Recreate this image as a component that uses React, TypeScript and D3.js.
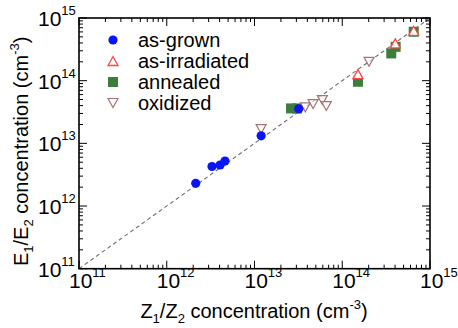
import React from "react";
import * as d3 from "d3";

const asGrownX = [2.14e12, 3.28e12, 4.05e12, 4.61e12, 1.19e13, 3.19e13];
const asGrownY = [2.3e12, 4.27e12, 4.51e12, 5.22e12, 1.32e13, 3.56e13];
const irradiatedX = [1.51e14, 4.02e14, 6.52e14];
const irradiatedY = [1.27e14, 3.93e14, 6.25e14];
const annealedX = [2.61e13, 3.05e13, 1.51e14, 3.62e14, 4.06e14, 6.52e14];
const annealedY = [3.61e13, 3.61e13, 9.6e13, 2.72e14, 3.47e14, 6.03e14];
const oxidizedX = [1.19e13, 3.79e13, 4.65e13, 5.93e13, 6.58e13, 2.02e14];
const oxidizedY = [1.69e13, 3.75e13, 4.24e13, 4.91e13, 3.94e13, 2.0e14];
const legendLabels = ["as-grown", "as-irradiated", "annealed", "oxidized"];
const decadeExps = [11, 12, 13, 14, 15];

const W = 458, H = 328;
const L = 79, R = 430, T = 18, B = 268.7;
const FONT = "'Liberation Sans', Arial, sans-serif";

const BLUE = "#0a14f5";
const RED = "#ff4646";
const GREEN = "#3b7d3b";
const BROWN = "#a57373";

const x = d3.scaleLog().domain([1e11, 1e15]).range([L, R]);
const y = d3.scaleLog().domain([1e11, 1e15]).range([B, T]);

const zip = (a: number[], b: number[]) => a.map((v, i) => [v, b[i]] as [number, number]);

function upTri(cx: number, cy: number, s: number) {
  const h = s * 0.9;
  return `M${cx},${cy - h / 2} L${cx + s / 2},${cy + h / 2} L${cx - s / 2},${cy + h / 2} Z`;
}
function downTri(cx: number, cy: number, s: number) {
  const h = s * 0.9;
  return `M${cx},${cy + h / 2} L${cx + s / 2},${cy - h / 2} L${cx - s / 2},${cy - h / 2} Z`;
}

export default function App() {
  const ticks: { v: number; major: boolean }[] = [];
  for (let d = 11; d < 15; d++) {
    for (let m = 1; m <= 9; m++) ticks.push({ v: m * Math.pow(10, d), major: m === 1 });
  }
  ticks.push({ v: 1e15, major: true });

  const majorLen = 8, minorLen = 4;

  return (
    <svg width={W} height={H} style={{ position: "absolute", left: 0, top: 0, background: "#fff" }} fontFamily={FONT}>
      <rect x={0} y={0} width={W} height={H} fill="#fff" />
      {/* diagonal */}
      <line x1={x(1e11)} y1={y(1e11)} x2={x(1e15)} y2={y(1e15)} stroke="#6e6e6e" strokeWidth={1.1} strokeDasharray="4,3" />
      {/* ticks */}
      <g stroke="#000" strokeWidth={1}>
        {ticks.map((t, i) => {
          const len = t.major ? majorLen : minorLen;
          const px = x(t.v), py = y(t.v);
          return (
            <g key={i}>
              <line x1={px} x2={px} y1={B} y2={B - len} />
              <line x1={px} x2={px} y1={T} y2={T + len} />
              <line x1={L} x2={L + len} y1={py} y2={py} />
              <line x1={R} x2={R - len} y1={py} y2={py} />
            </g>
          );
        })}
      </g>
      <rect x={L} y={T} width={R - L} height={B - T} fill="none" stroke="#000" strokeWidth={1.6} />
      {/* x tick labels */}
      {decadeExps.map((e) => (
        <text key={"x" + e} x={x(Math.pow(10, e)) - 10} y={288} fontSize={21} fill="#000">
          10<tspan dy={-11} fontSize={13}>{e}</tspan>
        </text>
      ))}
      {/* y tick labels */}
      {decadeExps.map((e) => (
        <text key={"y" + e} x={38} y={y(Math.pow(10, e)) + 8} fontSize={21} fill="#000">
          10<tspan dy={-11} fontSize={13}>{e}</tspan>
        </text>
      ))}
      {/* axis titles */}
      <text x={254} y={318} fontSize={20} textAnchor="middle" fill="#000">
        Z<tspan fontSize={13} dy={5}>1</tspan><tspan dy={-5}>/Z</tspan><tspan fontSize={13} dy={5}>2</tspan>
        <tspan dy={-5}> concentration (cm</tspan><tspan fontSize={13} dy={-9}>-3</tspan><tspan dy={9}>)</tspan>
      </text>
      <text transform={`translate(28,${(T + B) / 2 + 8}) rotate(-90)`} fontSize={20} textAnchor="middle" fill="#000">
        E<tspan fontSize={13} dy={5}>1</tspan><tspan dy={-5}>/E</tspan><tspan fontSize={13} dy={5}>2</tspan>
        <tspan dy={-5}> concentration (cm</tspan><tspan fontSize={13} dy={-9}>-3</tspan><tspan dy={9}>)</tspan>
      </text>
      {/* data */}
      {zip(annealedX, annealedY).map(([a, b], i) => (
        <rect key={"g" + i} x={x(a) - 5} y={y(b) - 5} width={10} height={10} fill={GREEN} />
      ))}
      {zip(oxidizedX, oxidizedY).map(([a, b], i) => (
        <path key={"o" + i} d={downTri(x(a), y(b), 10)} fill="#fff" fillOpacity={0.6} stroke={BROWN} strokeWidth={1.2} />
      ))}
      {zip(irradiatedX, irradiatedY).map(([a, b], i) => (
        <path key={"r" + i} d={upTri(x(a), y(b), 10)} fill="#fff" stroke={RED} strokeWidth={1.3} />
      ))}
      {zip(asGrownX, asGrownY).map(([a, b], i) => (
        <circle key={"b" + i} cx={x(a)} cy={y(b)} r={4.6} fill={BLUE} />
      ))}
      {/* legend */}
      {legendLabels.map((lab, i) => {
        const cy = 40 + i * 21;
        const cx = 113;
        let marker;
        if (i === 0) marker = <circle cx={cx} cy={cy} r={4.6} fill={BLUE} />;
        else if (i === 1) marker = <path d={upTri(cx, cy, 10)} fill="#fff" stroke={RED} strokeWidth={1.3} />;
        else if (i === 2) marker = <rect x={cx - 5} y={cy - 5} width={10} height={10} fill={GREEN} />;
        else marker = <path d={downTri(cx, cy, 10)} fill="#fff" stroke={BROWN} strokeWidth={1.2} />;
        return (
          <g key={lab}>
            {marker}
            <text x={138} y={cy + 7} fontSize={20} fill="#000">{lab}</text>
          </g>
        );
      })}
    </svg>
  );
}
